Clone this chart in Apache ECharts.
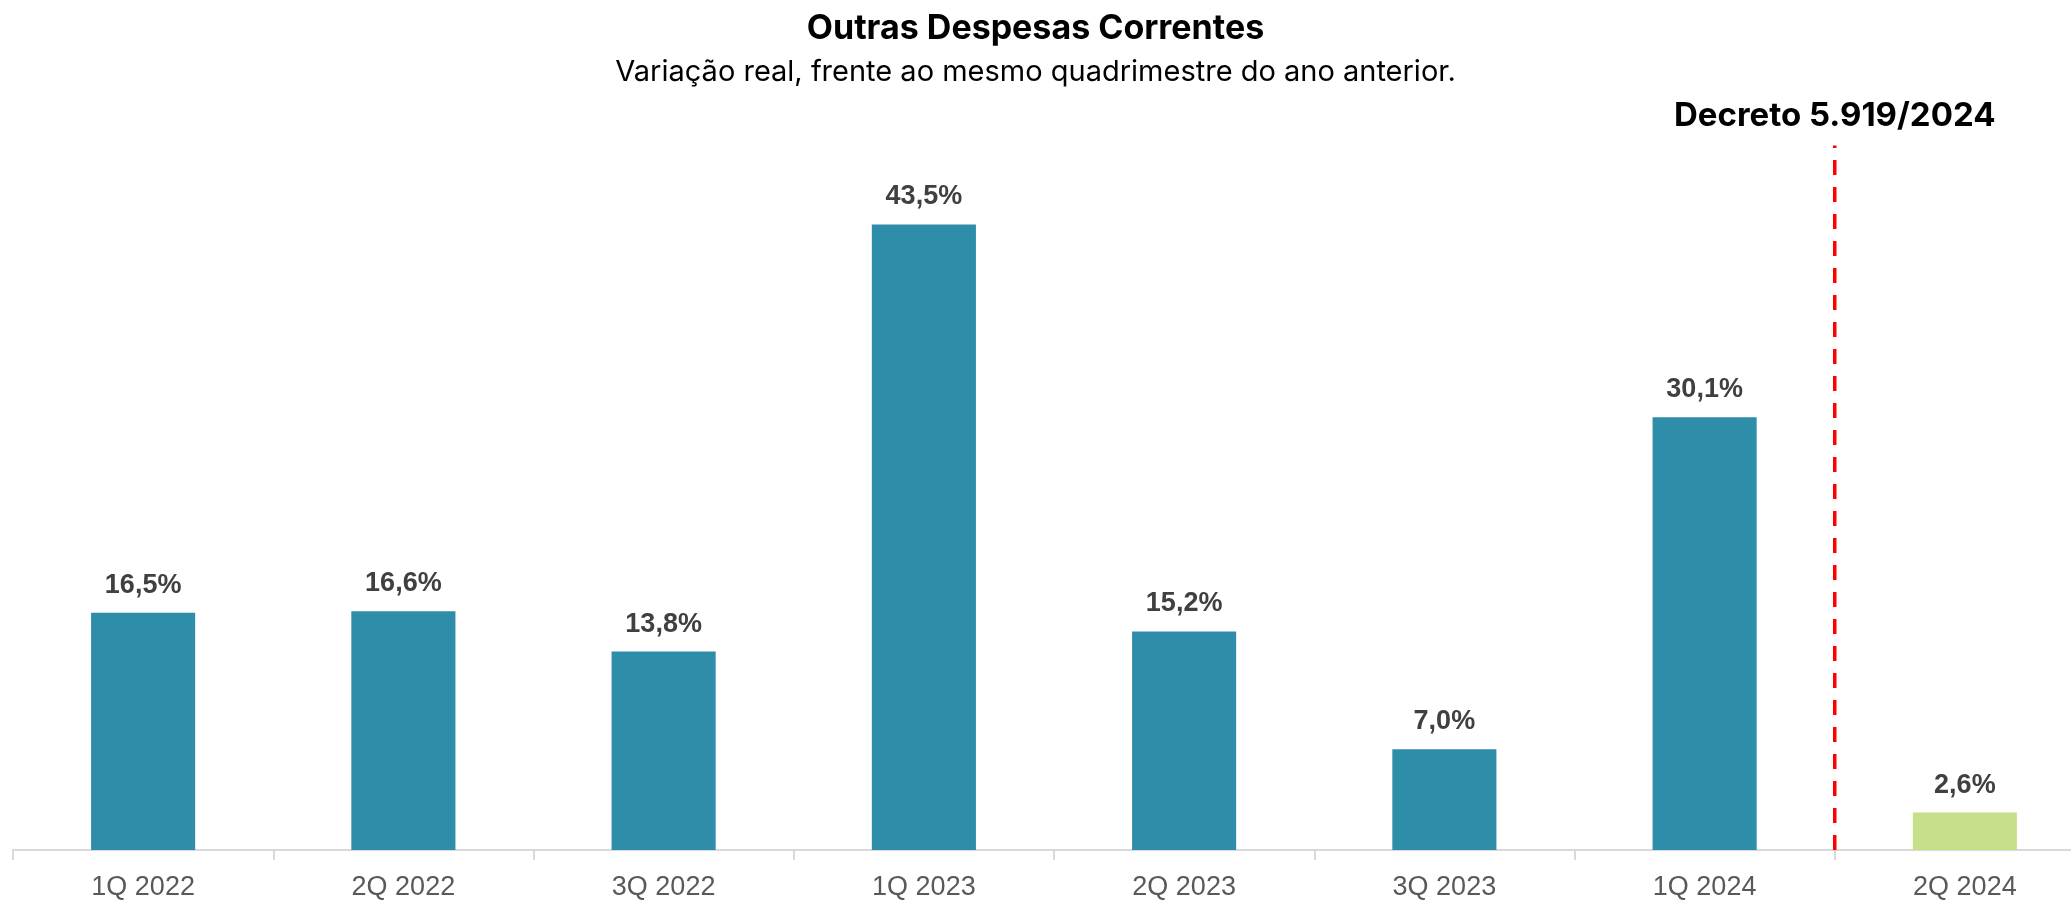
<!DOCTYPE html>
<html>
<head>
<meta charset="utf-8">
<script src="https://cdn.jsdelivr.net/npm/echarts@6/dist/echarts.min.js"></script>
<style>
  html, body { margin: 0; padding: 0; background: #fff; }
  #chart { width: 2071px; height: 902px; }
</style>
</head>
<body>
<div id="chart"></div>
<script>
// dados
var categorias = ['1Q 2022', '2Q 2022', '3Q 2022', '1Q 2023', '2Q 2023', '3Q 2023', '1Q 2024', '2Q 2024']
var variacao = [16.5, 16.6, 13.8, 43.5, 15.2, 7.0, 30.1, 2.6]
var destaque = '2Q 2024'
var decretoPos = 7
var decretoTopo = 49
var decretoTexto = 'Decreto 5.919/2024'

var azul = '#2E8DA8'
var verde = '#C5E089'

var chart = echarts.init(document.getElementById('chart'))

chart.setOption({
  animation: false,
  title: [
    {
      text: 'Outras Despesas Correntes',
      left: 'center',
      top: 7,
      textStyle: { fontFamily: 'Inter', fontWeight: 'bold', fontSize: 34, color: '#000' }
    },
    {
      text: 'Variação real, frente ao mesmo quadrimestre do ano anterior.',
      left: 'center',
      top: 53,
      textStyle: { fontFamily: 'Inter', fontWeight: 'normal', fontSize: 29, color: '#000' }
    }
  ],
  grid: {
    left: 13,
    top: 131,
    bottom: 52,
    width: 2082,
    outerBoundsMode: 'none'
  },
  xAxis: [
    {
      type: 'category',
      data: categorias,
      axisLine: { lineStyle: { color: '#d9d9d9', width: 2 } },
      axisTick: { show: true, length: 10, lineStyle: { color: '#d9d9d9', width: 2 } },
      axisLabel: {
        fontFamily: 'Liberation Sans',
        fontSize: 27,
        color: '#595959',
        margin: 24
      }
    },
    {
      type: 'value',
      min: 0,
      max: categorias.length,
      show: false
    }
  ],
  yAxis: {
    type: 'value',
    min: 0,
    max: 50,
    show: false,
    splitLine: { show: false }
  },
  series: [
    {
      type: 'bar',
      barWidth: '40%',
      data: variacao.map(function(v, i) {
        return {
          value: v,
          itemStyle: { color: categorias[i] === destaque ? verde : azul }
        }
      }),
      label: {
        show: true,
        position: 'top',
        distance: 14,
        fontFamily: 'Liberation Sans',
        fontWeight: 'bold',
        fontSize: 27,
        color: '#404040',
        formatter: function(p) {
          return p.value.toFixed(1).replace('.', ',') + '%'
        }
      }
    },
    {
      type: 'line',
      xAxisIndex: 1,
      symbol: 'circle',
      symbolSize: 0,
      showSymbol: true,
      lineStyle: { color: '#ff0000', width: 3.5, type: [15, 12] },
      itemStyle: { color: '#ff0000' },
      data: [
        [decretoPos, 0],
        {
          value: [decretoPos, decretoTopo],
          label: {
            show: true,
            position: 'top',
            distance: 13,
            formatter: decretoTexto,
            fontFamily: 'Inter',
            fontWeight: 'bold',
            fontSize: 33,
            color: '#000'
          }
        }
      ]
    }
  ]
})
</script>
</body>
</html>
